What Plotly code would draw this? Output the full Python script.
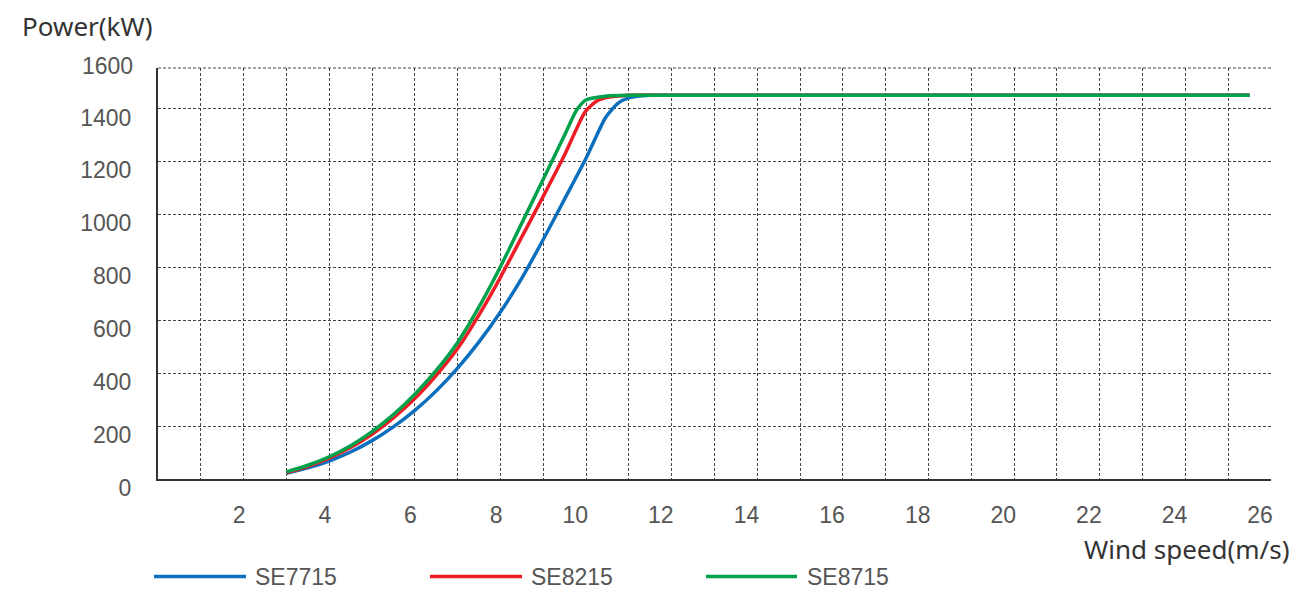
import plotly.graph_objects as go

# ---- data ----
series_names = ["SE7715", "SE8215", "SE8715"]

se7715_speed = [3, 3.5, 4, 4.5, 5, 5.5, 6, 6.5, 7, 7.5, 8, 8.5, 9, 9.5, 10, 10.46, 10.75, 11, 11.5, 12, 25.5]
se7715_power = [22, 42, 68, 102, 145, 197, 259, 333, 419, 518, 631, 759, 905, 1058, 1212, 1367, 1420, 1440, 1450, 1450, 1450]

se8215_speed = [3, 3.5, 4, 4.5, 5, 5.5, 6, 6.5, 7, 7.5, 8, 8.5, 9, 9.5, 9.98, 10.25, 10.5, 11, 12, 25.5]
se8215_power = [24, 48, 79, 119, 169, 231, 304, 392, 493, 620, 762, 915, 1068, 1225, 1388, 1428, 1442, 1450, 1450, 1450]

se8715_speed = [3, 3.5, 4, 4.5, 5, 5.5, 6, 6.5, 7, 7.5, 8, 8.5, 9, 9.5, 9.78, 10, 10.5, 11, 12, 25.5]
se8715_power = [27, 52, 84, 126, 179, 243, 320, 410, 516, 650, 802, 967, 1133, 1300, 1394, 1432, 1447, 1450, 1450, 1450]

x_tick_vals = [2, 4, 6, 8, 10, 12, 14, 16, 18, 20, 22, 24, 26]
y_tick_vals = [0, 200, 400, 600, 800, 1000, 1200, 1400]
y_top_label = "1600"

colors = ["#0b6fbd", "#ee1d25", "#00a14b"]

tick_font = dict(family="Liberation Sans, Arial, sans-serif", size=23, color="#555555")
title_font = dict(family="Noto Sans, sans-serif", size=26, color="#333333")
grid_dash = "3px,2px"
grid_color = "#444444"

fig = go.Figure()
for name, xs, ys, c in zip(series_names,
                           [se7715_speed, se8215_speed, se8715_speed],
                           [se7715_power, se8215_power, se8715_power],
                           colors):
    fig.add_trace(go.Scatter(x=xs, y=ys, mode="lines", name=name,
                             line=dict(color=c, width=3.5, shape="spline", smoothing=0.6),
                             showlegend=False))

fig.update_xaxes(range=[0, 26.002], tickmode="array", tickvals=x_tick_vals,
                 ticktext=[str(v) for v in x_tick_vals],
                 showgrid=True, gridcolor=grid_color, griddash=grid_dash, gridwidth=1,
                 minor=dict(dtick=1, tick0=0, showgrid=True, gridcolor=grid_color,
                            griddash=grid_dash, gridwidth=1),
                 showline=True, linecolor="#333333", linewidth=2, zeroline=False,
                 ticks="", tickfont=tick_font,
                 ticklabelposition="outside left", ticklabelshift=3,
                 ticklabelstandoff=14)

fig.update_yaxes(range=[0, 1553], tickmode="array", tickvals=y_tick_vals,
                 ticktext=[str(v) for v in y_tick_vals],
                 showgrid=True, gridcolor=grid_color, griddash=grid_dash, gridwidth=1,
                 showline=True, linecolor="#333333", linewidth=2, zeroline=False,
                 ticks="", tickfont=tick_font, ticklabelshift=9,
                 ticklabelstandoff=20)

# the page body has an 8px margin: lay out in screen pixels and compensate
OFF = 8
SW, SH = 1298, 589
W, H = SW - OFF, SH - OFF
L, R, T, B = 158 - OFF, 27, 68 - OFF, 110
pw, ph = W - L - R, H - T - B
bottom_screen = 479


def px(xs):
    return (xs - 158) / pw


def py(ys):
    return (bottom_screen - ys) / ph


shapes = [dict(type="line", xref="paper", yref="paper", x0=0, x1=1, y0=1, y1=1,
               line=dict(color=grid_color, width=1, dash=grid_dash))]
annotations = [
    dict(text=y_top_label, xref="paper", yref="paper", x=px(135), y=py(66),
         xanchor="right", yanchor="middle", showarrow=False, font=tick_font),
    dict(text="Power(kW)", xref="paper", yref="paper", x=px(20), y=py(26),
         xanchor="left", yanchor="middle", showarrow=False, font=title_font),
    dict(text="Wind speed(m/s)", xref="paper", yref="paper", x=px(1292), y=py(549),
         xanchor="right", yanchor="middle", showarrow=False, font=title_font),
]

legend_line_x = [(154, 246), (430, 522), (706, 797)]
legend_text_x = [253, 529, 805]
legend_y = 576.5
for name, c, (a, b), tx in zip(series_names, colors, legend_line_x, legend_text_x):
    shapes.append(dict(type="line", xref="paper", yref="paper", x0=px(a), x1=px(b),
                       y0=py(legend_y), y1=py(legend_y), line=dict(color=c, width=3.5)))
    annotations.append(dict(text=name, xref="paper", yref="paper", x=px(tx), y=py(legend_y),
                            xanchor="left", yanchor="middle", showarrow=False,
                            font=dict(family="Liberation Sans, Arial, sans-serif", size=23,
                                      color="#555555")))

fig.update_layout(width=W, height=H, margin=dict(l=L, r=R, t=T, b=B),
                  plot_bgcolor="white", paper_bgcolor="white",
                  shapes=shapes, annotations=annotations, showlegend=False)

fig.write_html("out.html")
